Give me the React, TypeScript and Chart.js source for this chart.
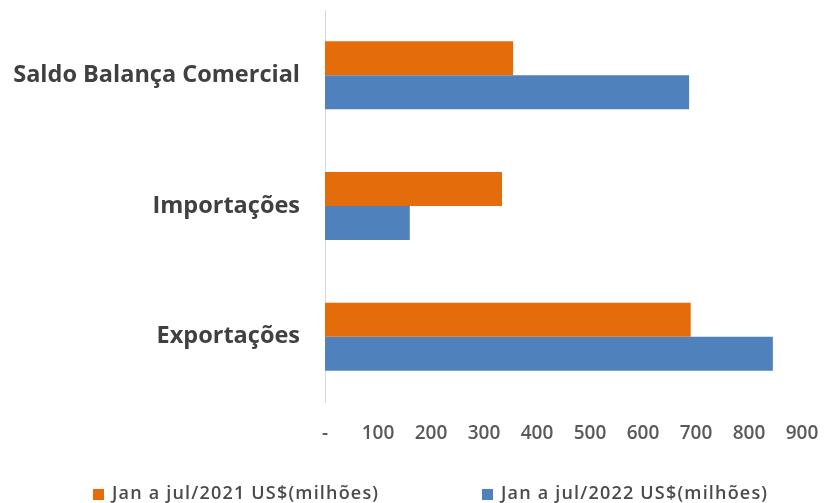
import React, { useEffect, useRef } from "react";
import { Chart, registerables } from "chart.js";

Chart.register(...registerables);

const categories = ["Saldo Balança Comercial", "Importações", "Exportações"];
const series2021 = [355, 334, 690];
const series2022 = [687, 160, 845];
const seriesLabels = ["Jan a jul/2021 US$(milhões)", "Jan a jul/2022 US$(milhões)"];
const seriesColors = ["#E46C0A", "#4F81BD"];
const xMax = 900;
const xStep = 100;

const legendPlugin = {
  id: "customLegend",
  afterDraw(chart: any) {
    const ctx = chart.ctx;
    const xs = [93, 482];
    const y = 494;
    const targetWidth = 266;
    ctx.save();
    ctx.font = '600 18px "Open Sans", sans-serif';
    ctx.textBaseline = "middle";
    ctx.textAlign = "left";
    chart.data.datasets.forEach((ds: any, i: number) => {
      ctx.fillStyle = ds.backgroundColor;
      ctx.fillRect(xs[i], y - 5, 11, 11);
      ctx.fillStyle = "#4A4A4A";
      const label = String(ds.label);
      (ctx as any).letterSpacing = "0px";
      const w = ctx.measureText(label).width;
      const extra = (targetWidth - w) / Math.max(1, label.length - 1);
      (ctx as any).letterSpacing = `${extra.toFixed(2)}px`;
      ctx.fillText(label, xs[i] + 19, y);
    });
    ctx.restore();
  },
};

export default function App() {
  const ref = useRef<HTMLCanvasElement | null>(null);
  useEffect(() => {
    if (!ref.current) return;
    const chart = new Chart(ref.current, {
      type: "bar",
      data: {
        labels: categories,
        datasets: [
          { label: seriesLabels[0], data: series2021, backgroundColor: seriesColors[0] },
          { label: seriesLabels[1], data: series2022, backgroundColor: seriesColors[1] },
        ],
      },
      options: {
        indexAxis: "y",
        animation: false,
        responsive: false,
        maintainAspectRatio: false,
        datasets: { bar: { categoryPercentage: 0.52, barPercentage: 1.0 } },
        layout: { padding: { top: 10, right: 24, bottom: 55, left: 0 } },
        plugins: { legend: { display: false }, tooltip: { enabled: false } },
        scales: {
          x: {
            min: 0,
            max: xMax,
            grid: { display: false, drawTicks: false, tickLength: 0 },
            border: { display: false },
            afterFit: (scale: any) => {
              scale.height = 46;
              scale.paddingLeft = 0;
              scale.paddingRight = 0;
            },
            ticks: {
              stepSize: xStep,
              padding: 20,
              color: "#595959",
              font: { family: '"Open Sans", sans-serif', size: 19, weight: "600" },
              callback: (v: any) => (Number(v) === 0 ? "-" : String(v)),
            },
          },
          y: {
            grid: { display: false, drawTicks: false, tickLength: 0 },
            border: { display: true, color: "#D9D9D9", width: 1 },
            afterFit: (scale: any) => {
              scale.width = 325;
              scale.paddingTop = 0;
              scale.paddingBottom = 0;
            },
            ticks: {
              padding: 25,
              color: "#404040",
              font: { family: '"Open Sans", sans-serif', size: 23.5, weight: "bold" },
            },
          },
        },
      },
      plugins: [legendPlugin],
    });
    return () => chart.destroy();
  }, []);
  return (
    <div style={{ position: "fixed", left: 0, top: 0, width: 826, height: 503, background: "#fff" }}>
      <canvas ref={ref} width={826} height={503} style={{ display: "block" }} />
    </div>
  );
}
